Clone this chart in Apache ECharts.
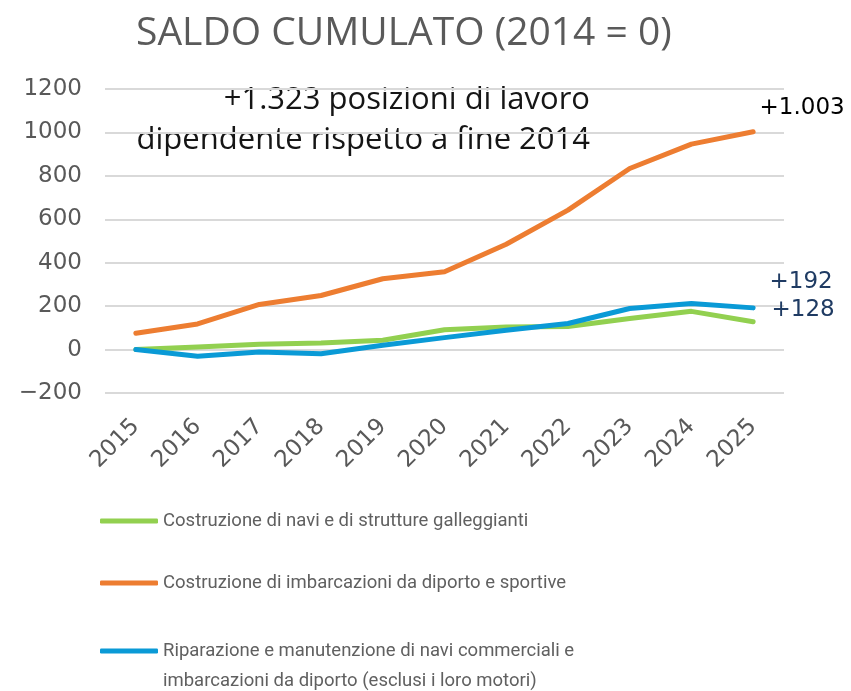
<!DOCTYPE html>
<html>
<head>
<meta charset="utf-8">
<script src="https://cdn.jsdelivr.net/npm/echarts@6/dist/echarts.min.js"></script>
<style>html,body{margin:0;padding:0;background:#fff}#c{width:851px;height:691px}</style>
</head>
<body>
<div id="c"></div>
<script>
const years = ['2015','2016','2017','2018','2019','2020','2021','2022','2023','2024','2025'];
const navi = [0, 12, 24, 30, 43, 91, 104, 106, 143, 176, 128];
const diporto = [75, 118, 208, 249, 326, 358, 485, 642, 834, 946, 1003];
const riparazione = [0, -31, -11, -19, 20, 55, 89, 120, 189, 212, 192];
const names = [
  'Costruzione di navi e di strutture galleggianti',
  'Costruzione di imbarcazioni da diporto e sportive',
  'Riparazione e manutenzione di navi commerciali e\nimbarcazioni da diporto (esclusi i loro motori)'
];
const colors = ['#92d050', '#ed7d31', '#0a9ad6'];
const titleText = 'SALDO CUMULATO (2014 = 0)';
const noteText = '+1.323 posizioni di lavoro\ndipendente rispetto a fine 2014';

const FONT = 'Open Sans';
const NUMFONT = 'DejaVu Sans';
function fmt(v){
  const s = String(Math.abs(v)).replace(/\B(?=(\d{3})+(?!\d))/g, '.');
  return (v >= 0 ? '+' : '-') + s;
}

const chart = echarts.init(document.getElementById('c'));
const endOffsets = [[50,-12],[49,-24],[48,-26]];
const endColors = ['#1f3b63','#000000','#1f3b63'];
const series = [navi, diporto, riparazione].map((d, i) => ({
  name: names[i],
  type: 'line',
  data: d,
  symbol: 'none',
  lineStyle: {width: 5, color: colors[i], cap: 'round', join: 'round'},
  itemStyle: {color: colors[i]},
  z: i === 2 ? 3 : 2,
  endLabel: {
    show: true,
    formatter: p => fmt(p.value),
    distance: 0,
    align: 'center',
    verticalAlign: 'middle',
    offset: endOffsets[i],
    color: endColors[i],
    fontFamily: NUMFONT,
    fontSize: 23
  },
  emphasis: {disabled: true}
}));

const legendTops = [501, 563, 601];
const legends = names.map((n, i) => ({
  left: 95,
  top: legendTops[i],
  orient: 'vertical',
  data: [{name: n, icon: 'roundRect'}],
  itemWidth: 58,
  itemHeight: 5,
  itemGap: 0,
  selectedMode: false,
  formatter: i === 2 ? (name => '\n' + name) : '{name}',
  textStyle: {
    color: '#606060',
    fontFamily: 'Roboto',
    fontSize: 18.5,
    lineHeight: 30
  }
}));

chart.setOption({
  animation: false,
  color: colors,
  title: {
    text: titleText,
    left: 131,
    top: 9,
    textStyle: {color: '#5a5a5a', fontFamily: FONT, fontSize: 39, fontWeight: 'normal'}
  },
  legend: legends,
  grid: {left: 105, right: 67, top: 89, bottom: 298, containLabel: false},
  xAxis: {
    type: 'category',
    data: years,
    boundaryGap: true,
    axisLine: {show: false, onZero: false},
    axisTick: {show: false},
    axisLabel: {rotate: 45, color: '#595959', fontFamily: NUMFONT, fontSize: 23, margin: 30}
  },
  yAxis: {
    type: 'value',
    min: -200,
    max: 1200,
    interval: 200,
    axisLine: {show: false},
    axisTick: {show: false},
    axisLabel: {color: '#595959', fontFamily: NUMFONT, fontSize: 23, margin: 23,
      formatter: v => (v < 0 ? '\u2212' + Math.abs(v) : String(v))},
    splitLine: {lineStyle: {color: '#d9d9d9', width: 2}}
  },
  graphic: [{
    type: 'text',
    right: 851 - 590,
    top: 80,
    style: {
      text: noteText,
      fill: '#151515',
      font: '31px "' + FONT + '"',
      textAlign: 'right',
      lineHeight: 40
    }
  }],
  series: series
});
</script>
</body>
</html>
